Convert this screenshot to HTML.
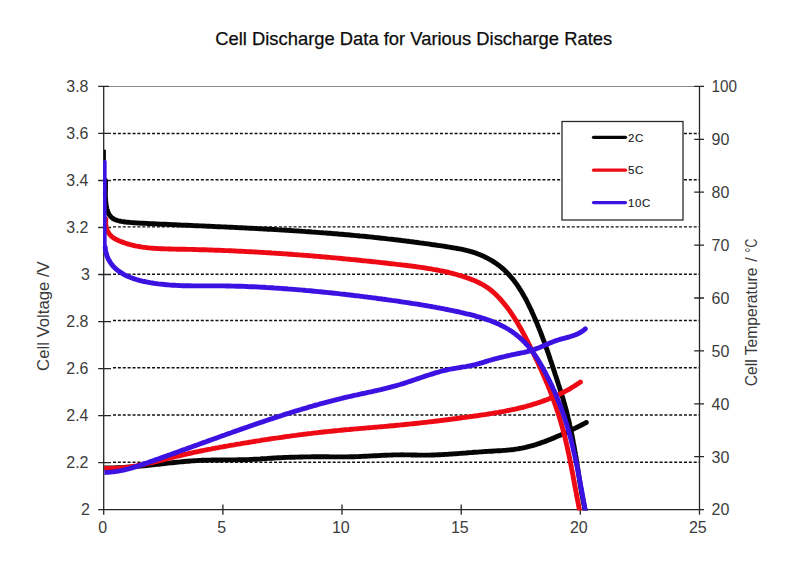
<!DOCTYPE html>
<html><head><meta charset="utf-8"><title>Cell Discharge Data</title>
<style>
html,body{margin:0;padding:0;background:#fff;}
body{width:800px;height:566px;overflow:hidden;position:relative;font-family:"Liberation Sans",sans-serif;}
svg text{font-family:"Liberation Sans",sans-serif;}
</style></head><body>
<svg width="800" height="566" viewBox="0 0 800 566" style="position:absolute;left:0;top:0;display:block">
<rect width="800" height="566" fill="#fff"/>
<line x1="104" y1="86.5" x2="699" y2="86.5" stroke="#8a8a8a" stroke-width="1"/>
<path d="M113.0 133.5H699.0M113.0 179.7H699.0M113.0 226.9H699.0M113.0 274.3H699.0M113.0 320.5H699.0M113.0 367.8H699.0M113.0 415.0H699.0M113.0 462.3H699.0" stroke="#101010" stroke-width="1.4" stroke-dasharray="3 1.88" fill="none"/>
<path d="M103.7 86.0V509.9M699.5 86.0V509.9M103.7 509.7H699.5M98.2 86.4H109.0M98.2 133.4H111.0M98.2 180.5H111.0M98.2 227.5H111.0M98.2 274.5H111.0M98.2 321.6H111.0M98.2 368.6H111.0M98.2 415.6H111.0M98.2 462.6H111.0M98.2 509.7H104.0M694.2 86.4H704.0M694.2 139.3H704.0M694.2 192.2H704.0M694.2 245.1H704.0M694.2 298.0H704.0M694.2 350.9H704.0M694.2 403.8H704.0M694.2 456.7H704.0M694.2 509.6H704.0M103.7 504.5V514.8M222.9 504.5V514.8M342.0 504.5V514.8M461.2 504.5V514.8M580.3 504.5V514.8M699.5 504.5V514.8" stroke="#262626" stroke-width="1.3" fill="none"/>
<clipPath id="ct"><rect x="104.4" y="80" width="600" height="430"/></clipPath>
<clipPath id="c"><rect x="100" y="80" width="600" height="430.6"/></clipPath><g clip-path="url(#c)">
<g clip-path="url(#ct)">
<path d="M104.5 468.0L106.5 468.0 108.5 468.0 110.5 468.0 112.5 468.0 114.5 467.9 116.5 467.8 118.5 467.8 120.5 467.7 122.5 467.6 124.5 467.4 126.5 467.3 128.5 467.2 130.5 467.0 132.5 466.9 134.5 466.7 136.5 466.5 138.4 466.3 140.4 466.1 142.4 465.9 144.4 465.7 146.4 465.5 148.4 465.3 150.4 465.1 152.4 464.9 154.4 464.7 156.4 464.4 158.4 464.2 160.3 464.0 162.3 463.8 164.3 463.5 166.3 463.3 168.3 463.1 170.3 462.9 172.3 462.7 174.3 462.5 176.3 462.3 178.3 462.1 180.3 461.9 182.2 461.7 184.2 461.5 186.2 461.3 188.2 461.2 190.2 461.0 192.2 460.9 194.2 460.7 196.2 460.6 198.2 460.5 200.2 460.4 202.2 460.3 204.2 460.2 206.2 460.2 208.2 460.1 210.2 460.1 212.2 460.0 214.2 460.0 216.2 460.0 218.2 460.0 220.2 460.0 222.2 459.9 224.2 459.9 226.2 459.9 228.2 459.9 230.2 459.9 232.2 459.9 234.2 459.9 236.2 459.9 238.2 459.8 240.2 459.8 242.2 459.8 244.2 459.7 246.2 459.7 248.2 459.6 250.2 459.5 252.2 459.4 254.2 459.3 256.2 459.2 258.2 459.1 260.2 459.0 262.2 458.8 264.2 458.7 266.2 458.6 268.1 458.4 270.1 458.3 272.1 458.2 274.1 458.0 276.1 457.9 278.1 457.8 280.1 457.7 282.1 457.6 284.1 457.5 286.1 457.4 288.1 457.4 290.1 457.3 292.1 457.2 294.1 457.2 296.1 457.1 298.1 457.1 300.1 457.0 302.1 457.0 304.1 456.9 306.1 456.9 308.1 456.9 310.1 456.9 312.1 456.8 314.1 456.8 316.1 456.8 318.1 456.8 320.1 456.8 322.1 456.8 324.1 456.8 326.1 456.8 328.1 456.8 330.1 456.9 332.1 456.9 334.1 456.9 336.1 456.9 338.1 456.9 340.1 456.9 342.1 456.9 344.1 456.9 346.1 456.9 348.1 456.9 350.1 456.8 352.1 456.8 354.1 456.7 356.1 456.6 358.1 456.6 360.1 456.5 362.1 456.4 364.1 456.3 366.1 456.2 368.1 456.1 370.1 456.0 372.1 455.9 374.1 455.8 376.1 455.7 378.1 455.6 380.1 455.5 382.1 455.4 384.1 455.3 386.1 455.2 388.1 455.1 390.1 455.1 392.1 455.0 394.1 454.9 396.1 454.9 398.1 454.9 400.1 454.9 402.1 454.8 404.1 454.9 406.1 454.9 408.1 454.9 410.1 454.9 412.1 455.0 414.1 455.0 416.1 455.0 418.1 455.1 420.1 455.1 422.1 455.1 424.1 455.1 426.1 455.1 428.1 455.1 430.0 455.1 432.0 455.0 434.0 455.0 436.0 454.9 438.0 454.8 440.0 454.7 442.0 454.6 444.0 454.5 446.0 454.4 447.9 454.3 449.9 454.1 451.9 454.0 453.9 453.9 455.9 453.7 457.9 453.6 459.9 453.4 461.9 453.3 463.9 453.1 465.9 453.0 467.9 452.8 469.9 452.6 471.9 452.5 473.9 452.3 475.9 452.2 477.9 452.1 479.9 451.9 481.9 451.8 483.8 451.6 485.8 451.5 487.8 451.4 489.8 451.3 491.8 451.2 493.8 451.0 495.8 450.9 497.8 450.8 499.8 450.7 501.8 450.6 503.8 450.4 505.8 450.3 507.8 450.1 509.8 449.9 511.8 449.7 513.7 449.5 515.7 449.2 517.7 448.9 519.6 448.5 521.6 448.2 523.5 447.8 525.5 447.4 527.4 446.9 529.3 446.4 531.3 445.9 533.2 445.3 535.1 444.8 537.0 444.2 538.9 443.6 540.8 442.9 542.7 442.2 544.6 441.6 546.4 440.9 548.3 440.1 550.2 439.4 552.1 438.6 553.9 437.9 555.8 437.1 557.6 436.3 559.5 435.5 561.3 434.7 563.1 433.8 564.9 433.0 566.8 432.2 568.6 431.3 570.4 430.5 572.2 429.6 574.0 428.8 575.8 427.9 577.6 427.0 579.3 426.1 581.1 425.2 582.9 424.3 584.6 423.4 586.3 422.5" stroke="#050505" stroke-width="4.9" fill="none" stroke-linecap="round" stroke-linejoin="round"/>
</g>
<path d="M105.4 180.1L105.5 181.6 105.5 183.3 105.5 185.2 105.5 187.1 105.5 189.1 105.4 191.3 105.4 193.4 105.4 195.6 105.5 197.9 105.6 200.1 105.8 202.3 106.0 204.5 106.4 206.6 106.8 208.6 107.4 210.6 108.1 212.4 108.9 214.1 109.9 215.6 111.1 217.0 112.4 218.1 113.9 219.1 115.6 219.9 117.5 220.5 119.4 221.0 121.4 221.4 123.5 221.7 125.6 222.0 127.7 222.2 129.7 222.4 131.8 222.6 133.8 222.7 135.8 222.9 137.9 223.0 139.9 223.1 141.9 223.2 143.9 223.3 145.9 223.4 147.8 223.5 149.8 223.6 151.8 223.7 153.8 223.8 155.8 223.9 157.8 224.0 159.8 224.1 161.8 224.2 163.8 224.3 165.8 224.3 167.8 224.4 169.8 224.5 171.8 224.6 173.8 224.7 175.8 224.8 177.7 224.9 179.7 225.0 181.7 225.1 183.7 225.1 185.7 225.2 187.7 225.3 189.7 225.4 191.7 225.5 193.7 225.6 195.7 225.7 197.7 225.8 199.8 225.9 201.8 225.9 203.8 226.0 205.8 226.1 207.8 226.2 209.8 226.3 211.8 226.4 213.8 226.5 215.8 226.6 217.8 226.7 219.8 226.8 221.8 226.9 223.8 226.9 225.8 227.0 227.8 227.1 229.8 227.2 231.8 227.3 233.8 227.4 235.8 227.5 237.8 227.6 239.9 227.7 241.9 227.8 243.9 227.9 245.9 228.0 247.9 228.1 249.9 228.2 251.9 228.3 253.9 228.4 255.9 228.5 257.9 228.6 259.9 228.8 261.9 228.9 263.9 229.0 265.9 229.1 267.9 229.2 270.0 229.3 272.0 229.4 274.0 229.5 276.0 229.6 278.0 229.8 280.0 229.9 282.0 230.0 284.0 230.1 286.0 230.2 288.0 230.4 290.0 230.5 292.0 230.6 294.0 230.8 296.0 230.9 298.0 231.0 300.0 231.1 302.0 231.3 304.0 231.4 306.0 231.6 308.0 231.7 310.0 231.8 312.0 232.0 314.0 232.1 316.0 232.3 318.0 232.4 320.0 232.6 322.0 232.7 324.0 232.9 326.0 233.0 328.0 233.2 330.0 233.3 332.0 233.5 334.0 233.7 336.0 233.8 338.0 234.0 340.0 234.2 342.0 234.3 344.0 234.5 345.9 234.7 347.9 234.8 349.9 235.0 351.9 235.2 353.9 235.4 355.9 235.6 357.9 235.8 359.9 236.0 361.9 236.1 363.9 236.3 365.9 236.5 367.9 236.7 369.9 236.9 371.8 237.1 373.8 237.3 375.8 237.6 377.8 237.8 379.8 238.0 381.8 238.2 383.8 238.4 385.8 238.6 387.8 238.9 389.8 239.1 391.8 239.3 393.7 239.5 395.7 239.8 397.7 240.0 399.7 240.2 401.7 240.5 403.7 240.7 405.7 241.0 407.7 241.2 409.7 241.5 411.6 241.7 413.6 242.0 415.6 242.3 417.6 242.5 419.6 242.8 421.6 243.1 423.6 243.3 425.6 243.6 427.6 243.9 429.6 244.2 431.5 244.5 433.5 244.7 435.5 245.0 437.5 245.3 439.5 245.6 441.5 245.9 443.5 246.2 445.5 246.5 447.5 246.8 449.5 247.2 451.4 247.5 453.4 247.8 455.4 248.1 457.4 248.5 459.4 248.8 461.4 249.2 463.3 249.6 465.3 250.1 467.3 250.6 469.2 251.1 471.1 251.6 473.0 252.2 475.0 252.8 476.8 253.5 478.7 254.2 480.6 255.0 482.4 255.8 484.2 256.6 486.0 257.5 487.8 258.4 489.5 259.3 491.3 260.3 493.0 261.4 494.6 262.4 496.3 263.6 497.9 264.7 499.5 265.9 501.0 267.1 502.5 268.4 504.0 269.7 505.4 271.1 506.8 272.5 508.2 273.9 509.5 275.4 510.8 276.9 512.1 278.4 513.4 279.9 514.6 281.5 515.8 283.1 516.9 284.7 518.1 286.4 519.2 288.1 520.3 289.8 521.4 291.5 522.4 293.2 523.4 295.0 524.4 296.8 525.4 298.5 526.4 300.3 527.3 302.2 528.2 304.0 529.1 305.8 530.0 307.7 530.9 309.5 531.8 311.4 532.6 313.2 533.4 315.1 534.2 317.0 535.1 318.8 535.8 320.7 536.6 322.5 537.4 324.4 538.1 326.3 538.9 328.1 539.6 330.0 540.4 331.8 541.1 333.7 541.8 335.6 542.5 337.4 543.2 339.3 543.9 341.1 544.6 343.0 545.2 344.9 545.9 346.7 546.6 348.6 547.2 350.5 547.9 352.3 548.5 354.2 549.2 356.1 549.8 358.0 550.4 359.8 551.1 361.7 551.7 363.6 552.3 365.5 552.9 367.4 553.6 369.3 554.2 371.2 554.8 373.1 555.4 375.0 556.1 376.9 556.7 378.8 557.3 380.7 557.9 382.6 558.5 384.5 559.2 386.5 559.8 388.4 560.4 390.3 561.0 392.3 561.6 394.2 562.2 396.2 562.8 398.1 563.4 400.0 563.9 402.0 564.5 403.9 565.0 405.9 565.6 407.8 566.1 409.7 566.6 411.7 567.1 413.6 567.6 415.6 568.0 417.5 568.5 419.5 569.0 421.4 569.4 423.3 569.8 425.3 570.3 427.2 570.7 429.2 571.1 431.1 571.5 433.1 571.9 435.0 572.3 437.0 572.7 439.0 573.1 440.9 573.4 442.9 573.8 444.8 574.1 446.8 574.5 448.8 574.8 450.7 575.2 452.7 575.5 454.7 575.9 456.6 576.2 458.6 576.5 460.6 576.8 462.6 577.1 464.6 577.4 466.5 577.8 468.5 578.1 470.5 578.4 472.5 578.7 474.5 579.0 476.5 579.3 478.5 579.6 480.5 579.9 482.5 580.2 484.5 580.6 486.5 580.9 488.4 581.2 490.4 581.6 492.4 581.9 494.4 582.3 496.4 582.7 498.3 583.1 500.3 583.4 502.3 583.9 504.2 584.3 506.2 584.7 508.1 585.2 510.1 585.6 512.0" stroke="#050505" stroke-width="4.9" fill="none" stroke-linecap="round" stroke-linejoin="round"/>
<g clip-path="url(#ct)">
<path d="M104.5 468.3L106.5 468.4 108.6 468.4 110.6 468.4 112.6 468.4 114.6 468.3 116.6 468.2 118.6 468.1 120.6 468.0 122.6 467.8 124.6 467.6 126.5 467.3 128.5 467.1 130.5 466.8 132.5 466.5 134.4 466.1 136.4 465.8 138.4 465.4 140.3 465.0 142.3 464.6 144.2 464.2 146.2 463.8 148.1 463.4 150.1 462.9 152.0 462.5 154.0 462.0 155.9 461.5 157.9 461.1 159.8 460.6 161.8 460.1 163.7 459.6 165.6 459.1 167.6 458.6 169.5 458.1 171.5 457.6 173.4 457.2 175.4 456.7 177.3 456.2 179.3 455.8 181.2 455.3 183.2 454.8 185.1 454.4 187.1 454.0 189.0 453.5 191.0 453.1 192.9 452.7 194.9 452.2 196.9 451.8 198.8 451.4 200.8 451.0 202.7 450.6 204.7 450.2 206.7 449.8 208.6 449.4 210.6 449.1 212.6 448.7 214.5 448.3 216.5 447.9 218.5 447.6 220.4 447.2 222.4 446.9 224.4 446.5 226.3 446.1 228.3 445.8 230.3 445.4 232.3 445.1 234.2 444.8 236.2 444.4 238.2 444.1 240.1 443.8 242.1 443.4 244.1 443.1 246.1 442.8 248.0 442.5 250.0 442.1 252.0 441.8 254.0 441.5 255.9 441.2 257.9 440.9 259.9 440.6 261.9 440.2 263.9 439.9 265.8 439.6 267.8 439.3 269.8 439.0 271.8 438.7 273.7 438.4 275.7 438.1 277.7 437.9 279.7 437.6 281.7 437.3 283.7 437.0 285.6 436.7 287.6 436.4 289.6 436.2 291.6 435.9 293.6 435.6 295.5 435.4 297.5 435.1 299.5 434.8 301.5 434.6 303.5 434.3 305.5 434.1 307.5 433.8 309.4 433.6 311.4 433.4 313.4 433.1 315.4 432.9 317.4 432.7 319.4 432.4 321.4 432.2 323.4 432.0 325.4 431.8 327.3 431.6 329.3 431.4 331.3 431.2 333.3 431.0 335.3 430.8 337.3 430.6 339.3 430.4 341.3 430.2 343.3 430.0 345.3 429.8 347.3 429.6 349.3 429.5 351.3 429.3 353.3 429.1 355.2 428.9 357.2 428.8 359.2 428.6 361.2 428.4 363.2 428.3 365.2 428.1 367.2 427.9 369.2 427.7 371.2 427.6 373.2 427.4 375.2 427.2 377.2 427.1 379.2 426.9 381.2 426.7 383.2 426.6 385.2 426.4 387.2 426.2 389.2 426.0 391.2 425.8 393.1 425.7 395.1 425.5 397.1 425.3 399.1 425.1 401.1 424.9 403.1 424.7 405.1 424.5 407.1 424.3 409.1 424.1 411.1 423.9 413.1 423.7 415.1 423.5 417.0 423.3 419.0 423.1 421.0 422.8 423.0 422.6 425.0 422.4 427.0 422.2 429.0 421.9 431.0 421.7 433.0 421.5 434.9 421.2 436.9 421.0 438.9 420.8 440.9 420.5 442.9 420.3 444.9 420.0 446.9 419.8 448.8 419.5 450.8 419.3 452.8 419.0 454.8 418.8 456.8 418.5 458.8 418.2 460.8 418.0 462.7 417.7 464.7 417.4 466.7 417.2 468.7 416.9 470.7 416.6 472.7 416.3 474.6 416.0 476.6 415.8 478.6 415.5 480.6 415.2 482.6 414.9 484.6 414.6 486.5 414.3 488.5 414.0 490.5 413.7 492.5 413.4 494.5 413.0 496.4 412.7 498.4 412.4 500.4 412.0 502.3 411.7 504.3 411.3 506.3 410.9 508.2 410.5 510.2 410.1 512.2 409.7 514.1 409.3 516.1 408.9 518.0 408.4 520.0 407.9 521.9 407.5 523.9 407.0 525.8 406.5 527.7 405.9 529.7 405.4 531.6 404.8 533.5 404.2 535.4 403.7 537.3 403.0 539.2 402.4 541.1 401.8 543.0 401.1 544.9 400.4 546.8 399.7 548.6 399.0 550.5 398.2 552.3 397.5 554.2 396.7 556.0 395.9 557.8 395.0 559.6 394.2 561.4 393.3 563.2 392.4 565.0 391.5 566.7 390.5 568.5 389.6 570.2 388.6 571.9 387.5 573.6 386.5 575.4 385.4 577.0 384.3 578.7 383.2 580.4 382.0" stroke="#ee0a14" stroke-width="4.9" fill="none" stroke-linecap="round" stroke-linejoin="round"/>
</g>
<path d="M105.9 219.2L105.7 221.6 105.7 223.9 106.0 226.1 106.5 228.1 107.1 230.0 108.0 231.8 109.0 233.5 110.2 235.0 111.5 236.4 113.1 237.6 114.7 238.6 116.4 239.6 118.2 240.4 120.1 241.2 121.9 241.9 123.8 242.6 125.6 243.2 127.5 243.8 129.4 244.4 131.3 244.9 133.2 245.3 135.1 245.8 137.1 246.2 139.0 246.5 141.0 246.9 142.9 247.2 144.9 247.4 146.9 247.7 148.8 247.9 150.8 248.1 152.8 248.2 154.8 248.4 156.8 248.5 158.8 248.6 160.9 248.7 162.9 248.8 164.9 248.9 166.9 248.9 168.9 249.0 171.0 249.0 173.0 249.1 175.0 249.1 177.0 249.2 179.1 249.2 181.1 249.2 183.1 249.3 185.1 249.3 187.2 249.4 189.2 249.4 191.2 249.4 193.2 249.5 195.3 249.5 197.3 249.6 199.3 249.7 201.3 249.7 203.3 249.8 205.3 249.8 207.4 249.9 209.4 250.0 211.4 250.0 213.4 250.1 215.4 250.2 217.4 250.2 219.4 250.3 221.5 250.4 223.5 250.5 225.5 250.6 227.5 250.6 229.5 250.7 231.5 250.8 233.5 250.9 235.5 251.0 237.5 251.1 239.5 251.2 241.5 251.3 243.5 251.4 245.5 251.5 247.5 251.6 249.5 251.7 251.5 251.8 253.5 251.9 255.5 252.0 257.5 252.1 259.5 252.2 261.5 252.4 263.5 252.5 265.5 252.6 267.5 252.7 269.5 252.8 271.5 253.0 273.5 253.1 275.5 253.2 277.5 253.4 279.5 253.5 281.5 253.6 283.5 253.8 285.5 253.9 287.5 254.0 289.5 254.2 291.5 254.3 293.5 254.5 295.5 254.6 297.5 254.8 299.5 254.9 301.5 255.1 303.5 255.2 305.5 255.4 307.5 255.5 309.4 255.7 311.4 255.9 313.4 256.0 315.4 256.2 317.4 256.4 319.4 256.5 321.4 256.7 323.4 256.9 325.4 257.0 327.4 257.2 329.4 257.4 331.4 257.6 333.4 257.8 335.3 257.9 337.3 258.1 339.3 258.3 341.3 258.5 343.3 258.7 345.3 258.9 347.3 259.1 349.3 259.3 351.3 259.5 353.3 259.6 355.3 259.8 357.3 260.0 359.3 260.2 361.3 260.5 363.3 260.7 365.2 260.9 367.2 261.1 369.2 261.3 371.2 261.5 373.2 261.7 375.2 261.9 377.2 262.1 379.2 262.3 381.2 262.6 383.2 262.8 385.2 263.0 387.2 263.2 389.2 263.5 391.2 263.7 393.2 263.9 395.2 264.1 397.2 264.4 399.2 264.6 401.2 264.8 403.2 265.1 405.2 265.3 407.2 265.5 409.2 265.8 411.2 266.0 413.2 266.3 415.2 266.5 417.2 266.8 419.2 267.1 421.2 267.4 423.2 267.7 425.2 268.0 427.1 268.3 429.1 268.6 431.1 268.9 433.1 269.3 435.1 269.6 437.0 270.0 439.0 270.4 441.0 270.8 442.9 271.2 444.9 271.6 446.8 272.0 448.8 272.5 450.7 273.0 452.7 273.5 454.6 274.0 456.5 274.5 458.5 275.1 460.4 275.6 462.3 276.2 464.2 276.9 466.1 277.5 468.0 278.2 469.9 278.8 471.7 279.6 473.6 280.3 475.5 281.1 477.3 281.9 479.1 282.8 480.9 283.7 482.6 284.6 484.4 285.6 486.1 286.7 487.7 287.8 489.4 289.0 490.9 290.2 492.5 291.5 494.0 292.8 495.5 294.2 496.9 295.6 498.3 297.1 499.7 298.5 501.1 300.0 502.4 301.6 503.7 303.1 504.9 304.6 506.2 306.2 507.4 307.8 508.6 309.4 509.8 311.0 510.9 312.7 512.0 314.3 513.2 316.0 514.2 317.7 515.3 319.3 516.4 321.0 517.4 322.8 518.4 324.5 519.4 326.2 520.4 327.9 521.4 329.7 522.3 331.5 523.3 333.2 524.2 335.0 525.2 336.8 526.1 338.5 527.0 340.3 527.9 342.1 528.8 343.9 529.7 345.7 530.6 347.5 531.5 349.3 532.4 351.1 533.2 352.9 534.1 354.8 535.0 356.6 535.8 358.4 536.7 360.2 537.6 362.0 538.4 363.8 539.2 365.7 540.1 367.5 540.9 369.3 541.7 371.1 542.5 373.0 543.4 374.8 544.2 376.7 545.0 378.5 545.7 380.3 546.5 382.2 547.3 384.0 548.1 385.9 548.8 387.8 549.6 389.6 550.3 391.5 551.0 393.3 551.7 395.2 552.4 397.1 553.1 399.0 553.8 400.8 554.5 402.7 555.2 404.6 555.8 406.5 556.5 408.4 557.1 410.3 557.8 412.2 558.4 414.1 559.0 416.0 559.6 417.9 560.2 419.8 560.7 421.7 561.3 423.7 561.8 425.6 562.4 427.5 562.9 429.5 563.4 431.4 563.9 433.3 564.4 435.3 564.9 437.2 565.4 439.2 565.8 441.1 566.3 443.1 566.7 445.0 567.2 447.0 567.6 449.0 568.0 450.9 568.5 452.9 568.9 454.9 569.3 456.8 569.7 458.8 570.1 460.8 570.5 462.7 570.9 464.7 571.3 466.7 571.6 468.7 572.0 470.6 572.4 472.6 572.8 474.6 573.2 476.6 573.5 478.5 573.9 480.5 574.3 482.5 574.6 484.5 575.0 486.4 575.4 488.4 575.7 490.4 576.1 492.3 576.5 494.3 576.8 496.3 577.2 498.3 577.6 500.2 578.0 502.2 578.4 504.2 578.7 506.1 579.1 508.1 579.5 510.0 579.9 512.0" stroke="#ee0a14" stroke-width="4.9" fill="none" stroke-linecap="round" stroke-linejoin="round"/>
<g clip-path="url(#ct)">
<path d="M104.5 472.5L106.5 472.4 108.5 472.3 110.5 472.1 112.6 471.9 114.5 471.7 116.5 471.4 118.5 471.0 120.5 470.7 122.4 470.3 124.4 469.8 126.3 469.3 128.3 468.8 130.2 468.3 132.1 467.8 134.0 467.2 136.0 466.6 137.9 466.0 139.8 465.4 141.7 464.7 143.6 464.1 145.5 463.4 147.4 462.8 149.3 462.1 151.2 461.4 153.1 460.8 155.0 460.1 156.8 459.4 158.7 458.8 160.6 458.1 162.5 457.4 164.4 456.7 166.3 456.1 168.2 455.4 170.1 454.7 172.0 454.0 173.9 453.3 175.8 452.7 177.6 452.0 179.5 451.3 181.4 450.6 183.3 449.9 185.2 449.3 187.1 448.6 189.0 447.9 190.9 447.2 192.7 446.5 194.6 445.8 196.5 445.2 198.4 444.5 200.3 443.8 202.2 443.1 204.1 442.4 206.0 441.8 207.8 441.1 209.7 440.4 211.6 439.7 213.5 439.0 215.4 438.4 217.3 437.7 219.2 437.0 221.1 436.3 222.9 435.6 224.8 435.0 226.7 434.3 228.6 433.6 230.5 433.0 232.4 432.3 234.3 431.6 236.2 430.9 238.1 430.3 240.0 429.6 241.9 428.9 243.8 428.3 245.7 427.6 247.5 427.0 249.4 426.3 251.3 425.7 253.2 425.0 255.1 424.3 257.0 423.7 258.9 423.0 260.8 422.4 262.7 421.8 264.6 421.1 266.5 420.5 268.4 419.8 270.4 419.2 272.3 418.6 274.2 417.9 276.1 417.3 278.0 416.7 279.9 416.1 281.8 415.5 283.7 414.8 285.6 414.2 287.5 413.6 289.5 413.0 291.4 412.4 293.3 411.8 295.2 411.2 297.1 410.7 299.0 410.1 301.0 409.5 302.9 408.9 304.8 408.3 306.7 407.8 308.7 407.2 310.6 406.6 312.5 406.1 314.4 405.5 316.4 405.0 318.3 404.5 320.2 403.9 322.2 403.4 324.1 402.9 326.1 402.3 328.0 401.8 329.9 401.3 331.9 400.8 333.8 400.3 335.8 399.8 337.7 399.3 339.7 398.8 341.6 398.4 343.6 397.9 345.5 397.4 347.5 397.0 349.4 396.5 351.4 396.1 353.3 395.6 355.3 395.2 357.3 394.8 359.2 394.3 361.2 393.9 363.1 393.5 365.1 393.1 367.1 392.6 369.0 392.2 371.0 391.8 373.0 391.3 374.9 390.9 376.9 390.5 378.8 390.0 380.8 389.6 382.7 389.1 384.7 388.6 386.6 388.2 388.6 387.7 390.5 387.2 392.5 386.6 394.4 386.1 396.3 385.6 398.3 385.0 400.2 384.5 402.1 383.9 404.0 383.3 405.9 382.7 407.8 382.0 409.7 381.4 411.6 380.8 413.5 380.1 415.4 379.5 417.3 378.8 419.2 378.2 421.2 377.5 423.1 376.9 425.0 376.2 426.9 375.6 428.8 375.0 430.7 374.4 432.6 373.8 434.5 373.2 436.4 372.6 438.4 372.1 440.3 371.5 442.2 371.0 444.2 370.5 446.1 370.1 448.1 369.6 450.0 369.2 452.0 368.9 454.0 368.5 456.0 368.2 458.0 367.8 460.0 367.5 461.9 367.2 463.9 366.9 465.9 366.6 467.9 366.2 469.9 365.8 471.8 365.4 473.8 365.0 475.7 364.5 477.7 364.0 479.6 363.4 481.5 362.9 483.4 362.3 485.3 361.7 487.3 361.1 489.2 360.5 491.1 360.0 493.0 359.4 495.0 358.9 496.9 358.4 498.9 357.9 500.8 357.4 502.8 357.0 504.7 356.5 506.7 356.0 508.6 355.6 510.6 355.2 512.6 354.7 514.5 354.3 516.5 353.9 518.5 353.5 520.4 353.1 522.4 352.7 524.3 352.3 526.3 351.8 528.2 351.3 530.1 350.8 532.0 350.2 533.9 349.6 535.8 348.9 537.7 348.2 539.5 347.5 541.4 346.7 543.2 345.9 545.1 345.1 546.9 344.3 548.8 343.6 550.6 342.8 552.5 342.0 554.3 341.3 556.2 340.6 558.1 340.0 560.0 339.4 561.9 338.8 563.8 338.3 565.7 337.8 567.6 337.3 569.5 336.8 571.3 336.2 573.2 335.6 575.0 335.0 576.8 334.2 578.6 333.4 580.3 332.5 582.0 331.4 583.7 330.2 585.3 328.8" stroke="#3c12e2" stroke-width="4.9" fill="none" stroke-linecap="round" stroke-linejoin="round"/>
</g>
<path d="M104.9 150.5V176" stroke="#050505" stroke-width="2" stroke-linecap="round"/>
<path d="M104.85 161.5V250" stroke="#3c12e2" stroke-width="3.6" stroke-linecap="round"/>
<path d="M105.2 247.2L105.4 249.4 105.8 251.6 106.3 253.7 106.9 255.7 107.7 257.6 108.5 259.4 109.5 261.1 110.5 262.8 111.7 264.4 112.9 265.8 114.2 267.3 115.6 268.6 117.1 269.9 118.6 271.0 120.1 272.2 121.8 273.2 123.4 274.2 125.2 275.1 126.9 276.0 128.7 276.8 130.6 277.5 132.5 278.2 134.4 278.9 136.3 279.5 138.3 280.1 140.3 280.6 142.2 281.1 144.2 281.5 146.3 281.9 148.3 282.3 150.3 282.7 152.3 283.0 154.3 283.3 156.3 283.6 158.3 283.9 160.4 284.1 162.4 284.3 164.4 284.5 166.4 284.7 168.4 284.9 170.4 285.1 172.4 285.2 174.4 285.3 176.4 285.4 178.4 285.5 180.4 285.6 182.4 285.7 184.4 285.7 186.4 285.8 188.4 285.8 190.3 285.8 192.3 285.9 194.3 285.9 196.3 285.9 198.3 285.9 200.3 285.9 202.3 285.9 204.3 285.9 206.3 285.9 208.3 285.9 210.3 285.9 212.3 285.9 214.3 285.9 216.2 285.9 218.2 285.9 220.2 285.9 222.2 285.9 224.2 285.9 226.2 286.0 228.2 286.0 230.2 286.0 232.2 286.1 234.2 286.1 236.2 286.2 238.2 286.2 240.2 286.3 242.2 286.3 244.2 286.4 246.2 286.5 248.2 286.6 250.2 286.7 252.2 286.7 254.2 286.8 256.2 286.9 258.2 287.0 260.2 287.1 262.2 287.2 264.2 287.3 266.2 287.5 268.2 287.6 270.2 287.7 272.2 287.8 274.2 288.0 276.2 288.1 278.2 288.2 280.2 288.4 282.2 288.5 284.2 288.7 286.2 288.8 288.2 289.0 290.2 289.1 292.2 289.3 294.2 289.4 296.2 289.6 298.2 289.8 300.2 289.9 302.2 290.1 304.2 290.3 306.2 290.5 308.2 290.6 310.2 290.8 312.2 291.0 314.2 291.2 316.2 291.4 318.2 291.6 320.2 291.8 322.2 292.0 324.2 292.2 326.2 292.4 328.2 292.6 330.2 292.8 332.2 293.0 334.2 293.2 336.2 293.4 338.2 293.6 340.2 293.9 342.2 294.1 344.1 294.3 346.1 294.5 348.1 294.8 350.1 295.0 352.1 295.2 354.1 295.5 356.1 295.7 358.1 295.9 360.1 296.2 362.0 296.4 364.0 296.7 366.0 296.9 368.0 297.2 370.0 297.4 372.0 297.7 374.0 297.9 375.9 298.2 377.9 298.5 379.9 298.7 381.9 299.0 383.9 299.3 385.8 299.5 387.8 299.8 389.8 300.1 391.8 300.4 393.7 300.6 395.7 300.9 397.7 301.2 399.7 301.5 401.6 301.8 403.6 302.1 405.6 302.4 407.6 302.7 409.5 303.0 411.5 303.3 413.5 303.6 415.4 303.9 417.4 304.2 419.4 304.5 421.3 304.8 423.3 305.2 425.3 305.5 427.2 305.8 429.2 306.2 431.2 306.5 433.1 306.9 435.1 307.2 437.0 307.6 439.0 307.9 441.0 308.3 442.9 308.7 444.9 309.1 446.9 309.5 448.8 309.9 450.8 310.3 452.8 310.7 454.7 311.1 456.7 311.5 458.7 311.9 460.7 312.4 462.6 312.8 464.6 313.3 466.6 313.8 468.5 314.2 470.5 314.7 472.5 315.2 474.4 315.7 476.4 316.3 478.3 316.8 480.3 317.4 482.2 318.0 484.1 318.6 486.0 319.2 487.9 319.9 489.8 320.5 491.7 321.2 493.6 322.0 495.4 322.7 497.2 323.5 499.1 324.4 500.8 325.2 502.6 326.1 504.4 327.0 506.1 328.0 507.8 329.0 509.5 330.0 511.2 331.1 512.8 332.2 514.4 333.4 516.0 334.6 517.5 335.9 519.1 337.1 520.6 338.4 522.0 339.8 523.5 341.2 524.9 342.6 526.2 344.0 527.6 345.5 528.9 347.0 530.1 348.6 531.4 350.1 532.6 351.7 533.7 353.4 534.9 355.0 536.0 356.7 537.1 358.3 538.1 360.0 539.2 361.8 540.2 363.5 541.2 365.2 542.2 367.0 543.1 368.7 544.1 370.5 545.1 372.3 546.0 374.0 546.9 375.8 547.8 377.6 548.7 379.4 549.6 381.2 550.5 383.0 551.4 384.8 552.2 386.6 553.0 388.5 553.9 390.3 554.7 392.1 555.5 394.0 556.3 395.8 557.0 397.7 557.8 399.5 558.5 401.4 559.3 403.2 560.0 405.1 560.7 407.0 561.4 408.9 562.1 410.7 562.8 412.6 563.4 414.5 564.1 416.4 564.7 418.3 565.3 420.2 565.9 422.1 566.5 424.0 567.1 425.9 567.7 427.9 568.2 429.8 568.8 431.7 569.3 433.6 569.8 435.5 570.4 437.5 570.9 439.4 571.4 441.3 571.8 443.3 572.3 445.2 572.8 447.2 573.2 449.1 573.7 451.1 574.1 453.0 574.6 455.0 575.0 456.9 575.4 458.9 575.9 460.8 576.3 462.8 576.7 464.8 577.1 466.7 577.5 468.7 577.9 470.6 578.2 472.6 578.6 474.6 579.0 476.5 579.4 478.5 579.7 480.5 580.1 482.5 580.5 484.4 580.8 486.4 581.2 488.4 581.6 490.3 581.9 492.3 582.3 494.3 582.6 496.3 583.0 498.2 583.4 500.2 583.7 502.2 584.1 504.1 584.4 506.1 584.8 508.1 585.2 510.0 585.5 512.0" stroke="#3c12e2" stroke-width="4.9" fill="none" stroke-linecap="round" stroke-linejoin="round"/>
</g>
<rect x="562" y="121.5" width="121" height="98.5" fill="#fff" stroke="#2a2a2a" stroke-width="1.3"/>
<line x1="593.5" y1="137.3" x2="625.5" y2="137.3" stroke="#050505" stroke-width="3.2" stroke-linecap="round"/>
<text x="628" y="141.5" font-size="11.5" fill="#1a1a1a" stroke="#1a1a1a" stroke-width="0.15" letter-spacing="0.6">2C</text>
<line x1="593.5" y1="170.2" x2="625.5" y2="170.2" stroke="#ee0a14" stroke-width="3.2" stroke-linecap="round"/>
<text x="628" y="174.4" font-size="11.5" fill="#1a1a1a" stroke="#1a1a1a" stroke-width="0.15" letter-spacing="0.6">5C</text>
<line x1="593.5" y1="202.6" x2="625.5" y2="202.6" stroke="#3c12e2" stroke-width="3.2" stroke-linecap="round"/>
<text x="628" y="206.8" font-size="11.5" fill="#1a1a1a" stroke="#1a1a1a" stroke-width="0.15" letter-spacing="0.6">10C</text>
<text x="88.5" y="92.2" font-size="16.5" text-anchor="end" fill="#3c3c3c" textLength="22.2" lengthAdjust="spacingAndGlyphs">3.8</text>
<text x="88.5" y="139.2" font-size="16.5" text-anchor="end" fill="#3c3c3c" textLength="22.2" lengthAdjust="spacingAndGlyphs">3.6</text>
<text x="88.5" y="186.2" font-size="16.5" text-anchor="end" fill="#3c3c3c" textLength="22.2" lengthAdjust="spacingAndGlyphs">3.4</text>
<text x="88.5" y="233.2" font-size="16.5" text-anchor="end" fill="#3c3c3c" textLength="22.2" lengthAdjust="spacingAndGlyphs">3.2</text>
<text x="90.0" y="280.3" font-size="16.5" text-anchor="end" fill="#3c3c3c" textLength="8.9" lengthAdjust="spacingAndGlyphs">3</text>
<text x="88.5" y="327.3" font-size="16.5" text-anchor="end" fill="#3c3c3c" textLength="22.2" lengthAdjust="spacingAndGlyphs">2.8</text>
<text x="88.5" y="374.3" font-size="16.5" text-anchor="end" fill="#3c3c3c" textLength="22.2" lengthAdjust="spacingAndGlyphs">2.6</text>
<text x="88.5" y="421.4" font-size="16.5" text-anchor="end" fill="#3c3c3c" textLength="22.2" lengthAdjust="spacingAndGlyphs">2.4</text>
<text x="88.5" y="468.4" font-size="16.5" text-anchor="end" fill="#3c3c3c" textLength="22.2" lengthAdjust="spacingAndGlyphs">2.2</text>
<text x="90.0" y="515.4" font-size="16.5" text-anchor="end" fill="#3c3c3c" textLength="8.9" lengthAdjust="spacingAndGlyphs">2</text>
<text x="711.6" y="92.2" font-size="16.5" fill="#3c3c3c" textLength="25.5" lengthAdjust="spacingAndGlyphs">100</text>
<text x="711.6" y="145.1" font-size="16.5" fill="#3c3c3c" textLength="17.8" lengthAdjust="spacingAndGlyphs">90</text>
<text x="711.6" y="197.9" font-size="16.5" fill="#3c3c3c" textLength="17.8" lengthAdjust="spacingAndGlyphs">80</text>
<text x="711.6" y="250.8" font-size="16.5" fill="#3c3c3c" textLength="17.8" lengthAdjust="spacingAndGlyphs">70</text>
<text x="711.6" y="303.8" font-size="16.5" fill="#3c3c3c" textLength="17.8" lengthAdjust="spacingAndGlyphs">60</text>
<text x="711.6" y="356.6" font-size="16.5" fill="#3c3c3c" textLength="17.8" lengthAdjust="spacingAndGlyphs">50</text>
<text x="711.6" y="409.5" font-size="16.5" fill="#3c3c3c" textLength="17.8" lengthAdjust="spacingAndGlyphs">40</text>
<text x="711.6" y="462.5" font-size="16.5" fill="#3c3c3c" textLength="17.8" lengthAdjust="spacingAndGlyphs">30</text>
<text x="711.6" y="515.4" font-size="16.5" fill="#3c3c3c" textLength="17.8" lengthAdjust="spacingAndGlyphs">20</text>
<text x="102.8" y="533.2" font-size="16.5" text-anchor="middle" fill="#3c3c3c" textLength="8.9" lengthAdjust="spacingAndGlyphs">0</text>
<text x="221.8" y="533.2" font-size="16.5" text-anchor="middle" fill="#3c3c3c" textLength="8.9" lengthAdjust="spacingAndGlyphs">5</text>
<text x="340.8" y="533.2" font-size="16.5" text-anchor="middle" fill="#3c3c3c" textLength="17.8" lengthAdjust="spacingAndGlyphs">10</text>
<text x="459.8" y="533.2" font-size="16.5" text-anchor="middle" fill="#3c3c3c" textLength="17.8" lengthAdjust="spacingAndGlyphs">15</text>
<text x="578.8" y="533.2" font-size="16.5" text-anchor="middle" fill="#3c3c3c" textLength="17.8" lengthAdjust="spacingAndGlyphs">20</text>
<text x="697.8" y="533.2" font-size="16.5" text-anchor="middle" fill="#3c3c3c" textLength="17.8" lengthAdjust="spacingAndGlyphs">25</text>
<text transform="translate(49.2 370.9) rotate(-90)" font-size="16" fill="#3a3a3a" textLength="109.6" lengthAdjust="spacingAndGlyphs">Cell Voltage /V</text>
<g transform="translate(756.8 386.3) rotate(-90)" font-size="16" fill="#3a3a3a">
<text x="0" y="0" textLength="118.8" lengthAdjust="spacingAndGlyphs">Cell Temperature</text>
<text x="124.6" y="0">/</text>
<text x="133.9" y="0" textLength="13.6" lengthAdjust="spacingAndGlyphs">°C</text>
</g>
<text x="413.7" y="44.7" font-size="18.5" text-anchor="middle" fill="#0c0c0c" stroke="#0c0c0c" stroke-width="0.25" textLength="397" lengthAdjust="spacingAndGlyphs">Cell Discharge Data for Various Discharge Rates</text>
</svg>
</body></html>
